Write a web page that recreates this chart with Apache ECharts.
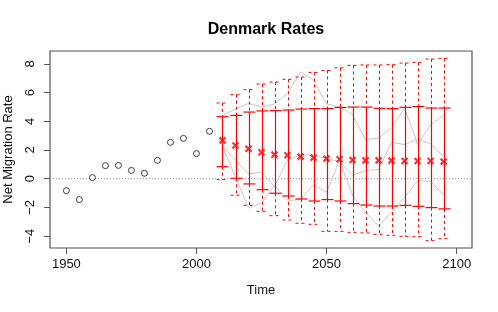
<!DOCTYPE html>
<html>
<head>
<meta charset="utf-8">
<script src="https://cdn.jsdelivr.net/npm/echarts@6/dist/echarts.min.js"></script>
<style>
html,body{margin:0;padding:0;background:#fff;}
#chart{width:498px;height:312px;}
</style>
</head>
<body>
<div id="chart"></div>
<script>
// ---- data ----
var obsYears = [1950,1955,1960,1965,1970,1975,1980,1985,1990,1995,2000,2005];
var obsValues = [-0.83,-1.45,0.08,0.91,0.93,0.58,0.38,1.28,2.53,2.81,1.75,3.30];

var projYears = [2010,2015,2020,2025,2030,2035,2040,2045,2050,2055,2060,2065,2070,2075,2080,2085,2090,2095];
var median = [2.67,2.32,2.09,1.84,1.68,1.63,1.54,1.47,1.40,1.36,1.31,1.28,1.28,1.26,1.24,1.24,1.24,1.19];
var upper80 = [4.32,4.41,4.64,4.72,4.74,4.78,4.85,4.88,4.88,4.96,4.99,4.99,4.90,4.88,4.97,5.02,4.92,4.92];
var lower80 = [0.84,0.03,-0.36,-0.76,-1.01,-1.20,-1.41,-1.55,-1.45,-1.55,-1.73,-1.83,-1.90,-1.90,-1.85,-1.92,-2.01,-2.10];
var upper95 = [5.27,5.85,6.20,6.59,6.73,6.92,7.08,7.40,7.54,7.72,7.89,7.92,7.92,7.94,8.05,8.10,8.33,8.38];
var lower95 = [-0.06,-1.15,-1.85,-2.27,-2.57,-2.87,-3.10,-3.17,-3.66,-3.66,-3.73,-3.77,-3.87,-3.94,-4.01,-4.03,-4.31,-4.17];

var trajA = [4.40,4.85,5.25,4.99,5.20,5.95,7.43,6.85,5.20,5.00,4.45,2.71,2.83,3.55,4.90,2.40,3.76,4.41];
var trajB = [2.25,1.30,0.33,0.46,-0.55,1.32,1.65,1.65,1.40,1.20,0.24,0.57,0.65,2.55,2.37,2.78,2.41,1.55];
var trajC = [2.25,0.10,-2.04,-1.69,-0.45,-1.50,-1.46,-0.40,-0.94,1.28,-1.15,-2.35,-3.30,-2.30,-1.30,-0.14,-0.18,-1.13];

var xTicks = [1950,2000,2050,2100];
var yTicks = [-4,-2,0,2,4,6,8];
var xRange = [1943.7,2105.9];
var yRange = [-4.82,8.89];

// ---- helpers ----
function pairs(xs, ys){ return xs.map(function(x,i){ return [x, ys[i]]; }); }
var intervalData = projYears.map(function(y,i){ return [y, lower95[i], upper95[i], lower80[i], upper80[i]]; });

var chart = echarts.init(document.getElementById('chart'), null, {renderer:'canvas'});
var FONT = 'Liberation Sans, Arial, Helvetica, sans-serif';
var AX = '#555';

function trajSeries(arr){
  return {type:'line', data: pairs(projYears, arr), symbol:'none', silent:true, z:2,
          lineStyle:{color:'#c8c8c8', width:1}};
}

chart.setOption({
  animation:false,
  backgroundColor:'#fff',
  title:{text:'Denmark Rates', left:261, top:17, textAlign:'center',
         textStyle:{fontFamily:FONT, fontSize:16, fontWeight:'bold', color:'#000'}},
  grid:{left:50, right:26, top:51, bottom:64, show:true, borderColor:AX, borderWidth:1.2,
        backgroundColor:'transparent', outerBoundsMode:'none', containLabel:false},
  xAxis:{type:'value', min:xRange[0], max:xRange[1],
    name:'Time', nameLocation:'middle', nameGap:36,
    nameTextStyle:{fontFamily:FONT, fontSize:13, color:'#111'},
    axisLine:{show:false, onZero:false}, splitLine:{show:false},
    axisTick:{show:true, length:6, lineStyle:{color:AX}, customValues:xTicks},
    axisLabel:{fontFamily:FONT, fontSize:13, color:'#111', margin:10, customValues:xTicks,
               formatter:function(v){ return String(Math.round(v)); }}},
  yAxis:{type:'value', min:yRange[0], max:yRange[1],
    name:'Net Migration Rate', nameLocation:'middle', nameGap:35, nameRotate:90,
    nameTextStyle:{fontFamily:FONT, fontSize:13, color:'#111'},
    axisLine:{show:false, onZero:false}, splitLine:{show:false},
    axisTick:{show:true, length:6, lineStyle:{color:AX}, customValues:yTicks},
    axisLabel:{fontFamily:FONT, fontSize:13, color:'#111', margin:13, rotate:90, customValues:yTicks,
               formatter:function(v){ return String(Math.round(v)).replace('-', '\u2212'); }}},
  series:[
    {type:'line', data:[[xRange[0],0],[xRange[1],0]], symbol:'none', silent:true, z:1,
     lineStyle:{color:'#888', width:1, type:[1,2]}},
    trajSeries(trajA), trajSeries(trajB), trajSeries(trajC),
    {type:'custom', data:intervalData, z:3, silent:true,
     renderItem:function(params, api){
       var x = api.value(0);
       var l95 = api.coord([x, api.value(1)]);
       var u95 = api.coord([x, api.value(2)]);
       var l80 = api.coord([x, api.value(3)]);
       var u80 = api.coord([x, api.value(4)]);
       var px = Math.round(l95[0]) + 0.5;
       var hw = 6;
       function solid(){ return {stroke:'#ff0000', fill:null, lineWidth:1.2}; }
       function dashed(){ return {stroke:'#ff0000', fill:null, lineWidth:1, lineDash:[3,3]}; }
       function seg(x1,y1,x2,y2,st){ return {type:'line', shape:{x1:x1,y1:y1,x2:x2,y2:y2}, style:st}; }
       return {type:'group', children:[
         seg(px, u95[1], px, u80[1], dashed()),
         seg(px, l80[1], px, l95[1], dashed()),
         seg(px, l80[1], px, u80[1], solid()),
         seg(px-hw, u80[1], px+hw, u80[1], solid()),
         seg(px-hw, l80[1], px+hw, l80[1], solid()),
         seg(px-hw, u95[1], px+hw, u95[1], dashed()),
         seg(px-hw, l95[1], px+hw, l95[1], dashed())
       ]};
     }},
    {type:'scatter', data:pairs(projYears, median), z:5, silent:true,
     symbol:'path://M0,0L10,10M10,0L0,10', symbolSize:6,
     itemStyle:{color:'none', borderColor:'#ff0000', borderWidth:2.2}},
    {type:'scatter', data:pairs(obsYears, obsValues), z:5, silent:true,
     symbol:'circle', symbolSize:6,
     itemStyle:{color:'#fff', borderColor:'#111', borderWidth:1}}
  ]
});
</script>
</body>
</html>
